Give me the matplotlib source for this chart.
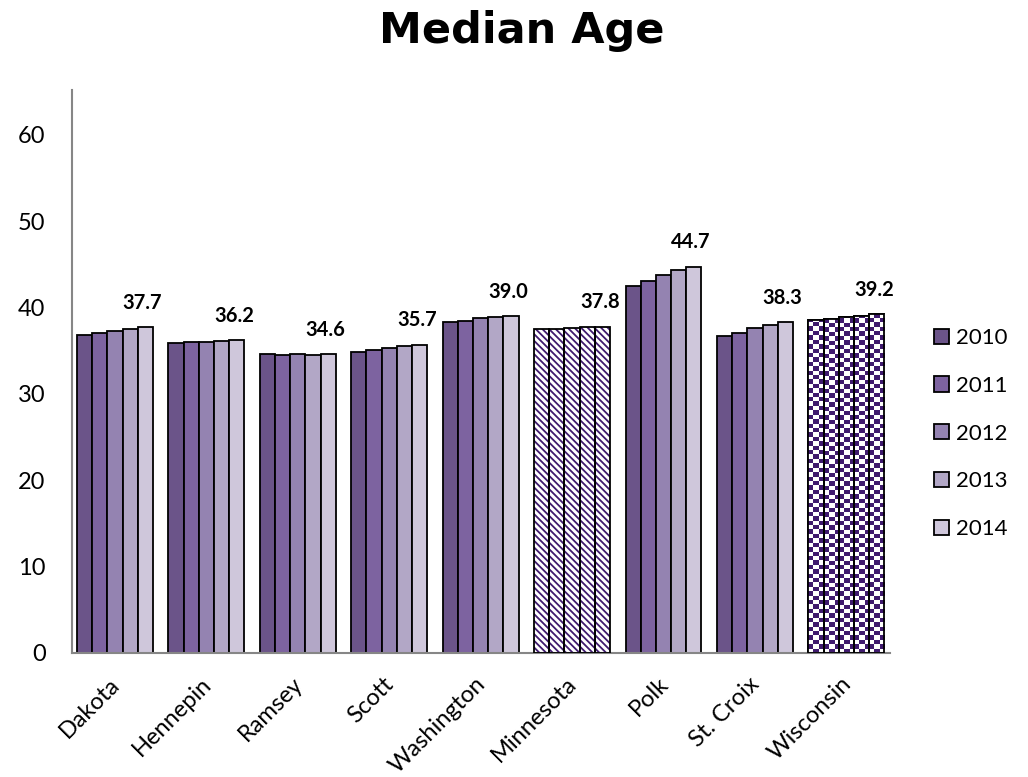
import numpy as np
import matplotlib
matplotlib.use('Agg')
import matplotlib.pyplot as plt
import matplotlib.transforms as mtransforms
from matplotlib.patches import Patch

plt.rcParams['font.family'] = ['Lato', 'DejaVu Sans']
plt.rcParams['hatch.linewidth'] = 1.3

# Données
places = ['Dakota', 'Hennepin', 'Ramsey', 'Scott', 'Washington',
          'Minnesota', 'Polk', 'St. Croix', 'Wisconsin']
years = ['2010', '2011', '2012', '2013', '2014']
age_2010 = [36.8, 35.9, 34.6, 34.9, 38.3, 37.5, 42.5, 36.7, 38.6]
age_2011 = [37.1, 36.0, 34.5, 35.1, 38.5, 37.5, 43.1, 37.1, 38.7]
age_2012 = [37.3, 36.0, 34.6, 35.3, 38.8, 37.6, 43.8, 37.6, 38.9]
age_2013 = [37.5, 36.1, 34.5, 35.5, 38.9, 37.7, 44.3, 38.0, 39.0]
age_2014 = [37.7, 36.2, 34.6, 35.7, 39.0, 37.8, 44.7, 38.3, 39.2]
series = [age_2010, age_2011, age_2012, age_2013, age_2014]

colors = ['#6b5489', '#7d63a0', '#9483b1', '#b2a7c6', '#cfc7db']
dark = '#3f1a6e'

fig = plt.figure(figsize=(10.28, 7.77), dpi=100)
ax = fig.add_axes([0.070, 0.160, 0.796, 0.724])

x = np.arange(len(places))
w = 0.166
ymax = 65.2
px_per_unit = 0.724 * 777 / ymax

for i, vals in enumerate(series):
    xs = x + (i - 2) * w
    for j, v in enumerate(vals):
        if places[j] == 'Minnesota':
            # rayures
            ax.bar(xs[j], v, w, color='white', edgecolor=dark, hatch='\\' * 5,
                   linewidth=0, zorder=2)
            ax.bar(xs[j], v, w, fill=False, edgecolor='black', linewidth=1.3, zorder=3)
        elif places[j] == 'Wisconsin':
            # damier
            b = ax.bar(xs[j], v, w, color='white', edgecolor='black', linewidth=1.3, zorder=2)[0]
            cell = 4.4 / px_per_unit
            nrows = int(np.ceil(v / cell))
            ncols = 3
            checker = (np.indices((nrows, ncols)).sum(axis=0) % 2)
            cmap = matplotlib.colors.ListedColormap(['white', dark])
            im = ax.imshow(checker, cmap=cmap, origin='lower', interpolation='nearest',
                           extent=(xs[j] - w / 2, xs[j] - w / 2 + ncols * (w / 3),
                                   0, nrows * cell), aspect='auto', zorder=2.5)
            im.set_clip_path(b)
            ax.bar(xs[j], v, w, fill=False, edgecolor='black', linewidth=1.3, zorder=3)
        else:
            ax.bar(xs[j], v, w, color=colors[i], edgecolor='black', linewidth=1.3, zorder=2)

# étiquettes 2014
for j, v in enumerate(age_2014):
    ax.text(x[j] + 2 * w - 0.03, v + 2.15, f'{v:.1f}', ha='center', va='baseline',
            fontsize=14.5, fontweight='bold')

ax.set_xlim(-0.47, 8.48)
ax.set_ylim(0, ymax)
ax.set_yticks(range(0, 61, 10))
ax.set_xticks(x)
ax.set_xticklabels(places, rotation=45, ha='right', rotation_mode='anchor', fontsize=17)
ax.tick_params(axis='x', length=0, pad=15)
ax.tick_params(axis='y', length=0, labelsize=17, pad=19)
shift = mtransforms.ScaledTranslation(-6 / 100, 0, fig.dpi_scale_trans)
for lab in ax.get_xticklabels():
    lab.set_transform(lab.get_transform() + shift)
for s in ['top', 'right']:
    ax.spines[s].set_visible(False)
for s in ['left', 'bottom']:
    ax.spines[s].set_color('#868686')
    ax.spines[s].set_linewidth(1.5)

handles = [Patch(facecolor=c, edgecolor='black', linewidth=1.3) for c in colors]
fig.legend(handles, years, loc='center left', bbox_to_anchor=(0.889, 0.442),
           frameon=False, fontsize=16, handlelength=0.68, handleheight=0.68,
           handletextpad=0.3, labelspacing=1.25)

fig.text(0.508, 0.945, 'Median Age', fontsize=31, fontweight='bold',
         family='DejaVu Sans', ha='center', va='baseline')

fig.savefig('out.png', dpi=100)
